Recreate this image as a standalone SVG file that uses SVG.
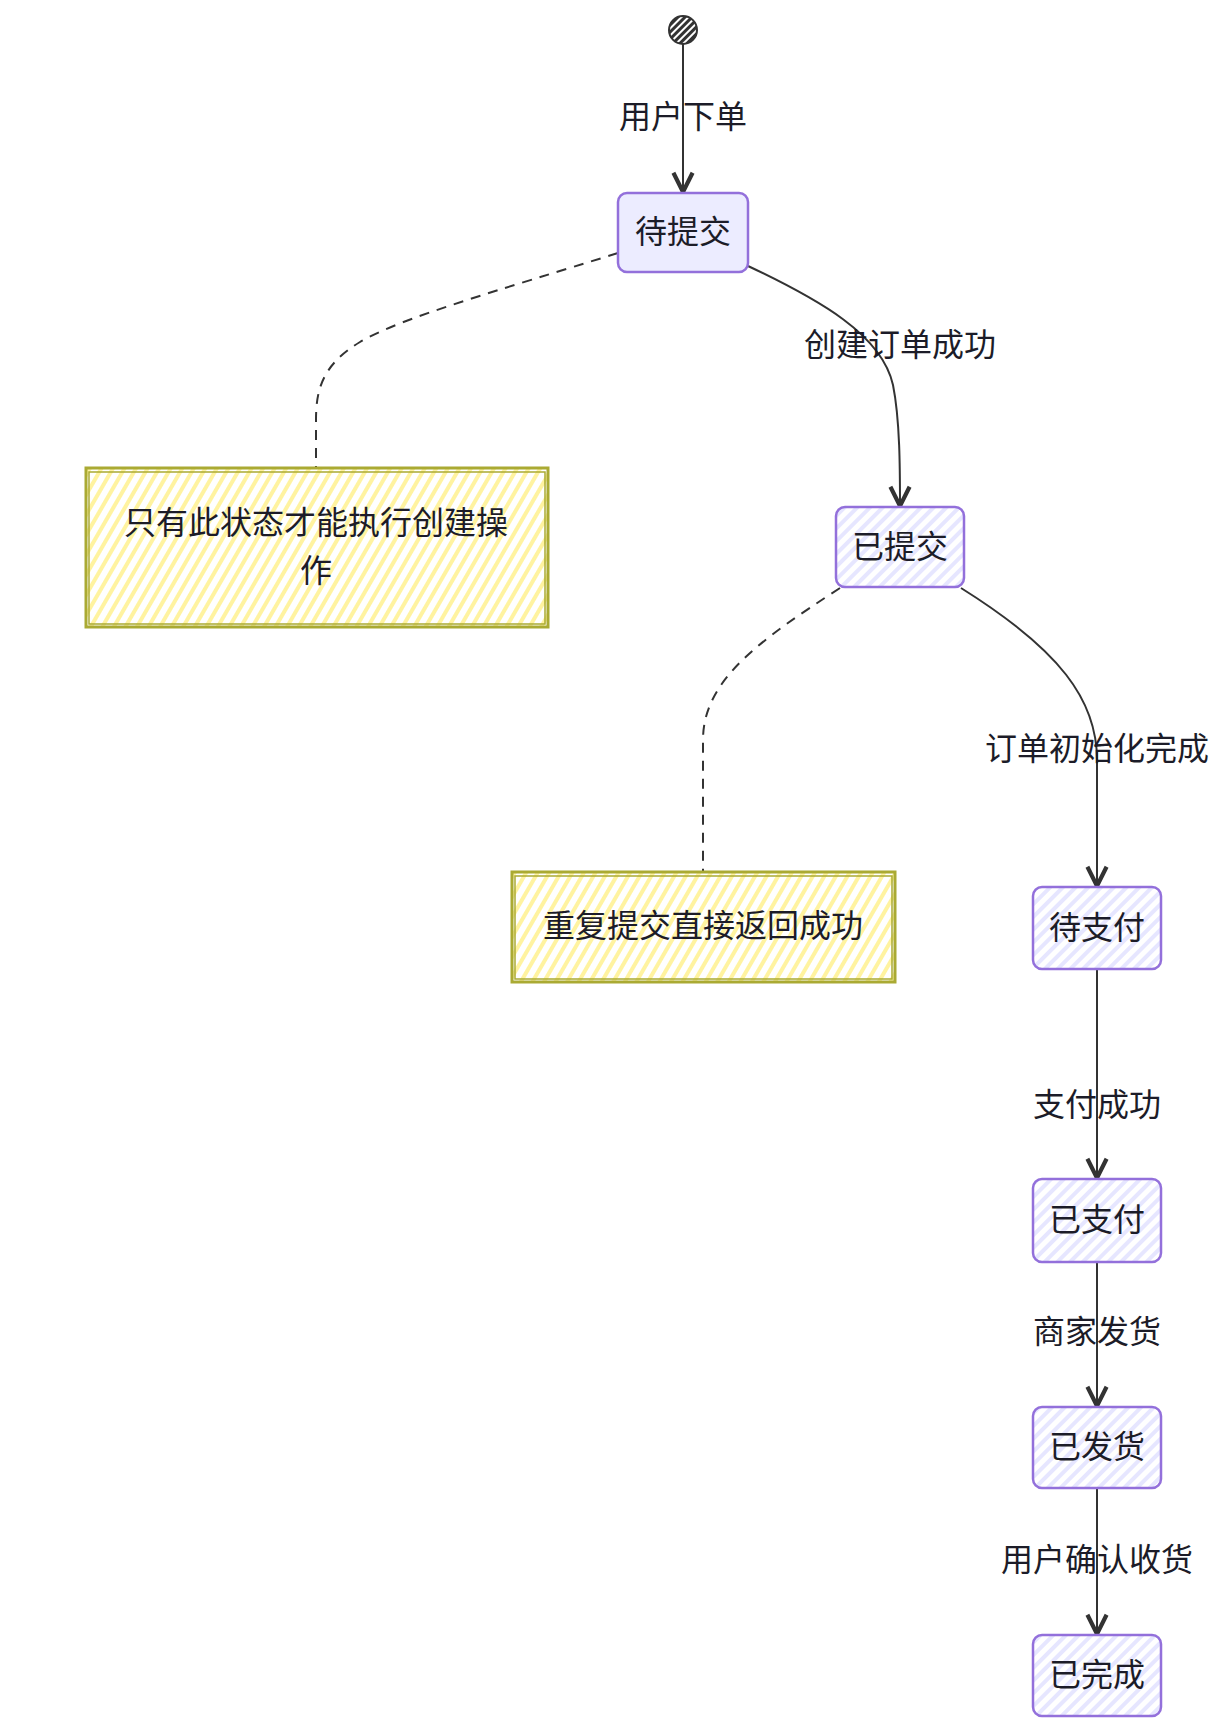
<svg xmlns="http://www.w3.org/2000/svg" width="1225" height="1732" viewBox="0 0 1225 1732">
<style>
.node rect{stroke:#9370DB;stroke-width:2.5}
.note rect{stroke:#aaaa33;stroke-width:3}
.note .b2{fill:none;stroke-width:1.5}
text{font-family:"Noto Sans CJK SC","Noto Sans",sans-serif;font-size:32px;fill:#1c1c28;text-anchor:middle;dominant-baseline:central}
.edge{fill:none;stroke:#333;stroke-width:2}
.dash{fill:none;stroke:#333;stroke-width:2;stroke-dasharray:10 8}
</style>
<defs>
<pattern id="hn" width="9" height="9" patternUnits="userSpaceOnUse" patternTransform="rotate(45)">
<rect width="9" height="9" fill="#ffffff"/><rect width="4" height="9" fill="#E6E6FF"/>
</pattern>
<pattern id="hy" width="10" height="10" patternUnits="userSpaceOnUse" patternTransform="rotate(30)">
<rect width="10" height="10" fill="#ffffff"/><rect width="4" height="10" fill="#FFF3A0"/>
</pattern>
<pattern id="hd" width="5" height="5" patternUnits="userSpaceOnUse" patternTransform="rotate(45)">
<rect width="5" height="5" fill="#ffffff"/><rect width="3" height="5" fill="#333"/>
</pattern>
<marker id="arr" viewBox="0 0 20 20" refX="18" refY="10" markerWidth="24" markerHeight="24" markerUnits="userSpaceOnUse" orient="auto">
<path d="M2,2 L18,10 L2,18" fill="none" stroke="#333" stroke-width="3.5"/>
</marker>
</defs>
<g id="connectors">
<path class="edge" d="M683,44 L683,192" marker-end="url(#arr)"/>
<path class="edge" d="M748,266 C 820,300 882,335 893,385 C 900,420 900,470 900,506" marker-end="url(#arr)"/>
<path class="dash" d="M618,253 C 500,290 400,318 360,342 C 322,365 316,390 316,420 L316,468"/>
<path class="dash" d="M840,588 C 760,640 703,680 703,740 L703,872"/>
<path class="edge" d="M961,588 C 1060,650 1097,700 1097,760 L1097,886" marker-end="url(#arr)"/>
<path class="edge" d="M1097,969 L1097,1178" marker-end="url(#arr)"/>
<path class="edge" d="M1097,1262 L1097,1406" marker-end="url(#arr)"/>
<path class="edge" d="M1097,1488 L1097,1634" marker-end="url(#arr)"/>
</g>
<g id="edge-labels">
<text x="683" y="114">用户下单</text>
<text x="900" y="342">创建订单成功</text>
<text x="1097" y="746">订单初始化完成</text>
<text x="1097" y="1102">支付成功</text>
<text x="1097" y="1329">商家发货</text>
<text x="1097" y="1557">用户确认收货</text>
</g>
<g id="start"><circle cx="683" cy="30" r="14" fill="url(#hd)" stroke="#333" stroke-width="2"/></g>
<g id="n-pending-submit" class="node"><rect x="618" y="193" width="130" height="79" rx="9" fill="#ECECFF"/><text x="683" y="229">待提交</text></g>
<g id="note-1" class="note"><rect x="86" y="468" width="462" height="159" fill="url(#hy)"/><rect class="b2" x="89" y="472" width="456" height="152"/><text x="316" y="520">只有此状态才能执行创建操</text><text x="316" y="568">作</text></g>
<g id="n-submitted" class="node"><rect x="836" y="507" width="128" height="80" rx="9" fill="url(#hn)"/><text x="900" y="544">已提交</text></g>
<g id="note-2" class="note"><rect x="512" y="872" width="383" height="110" fill="url(#hy)"/><rect class="b2" x="515" y="876" width="377" height="103"/><text x="703" y="923">重复提交直接返回成功</text></g>
<g id="n-pending-pay" class="node"><rect x="1033" y="887" width="128" height="82" rx="9" fill="url(#hn)"/><text x="1097" y="925">待支付</text></g>
<g id="n-paid" class="node"><rect x="1033" y="1179" width="128" height="83" rx="9" fill="url(#hn)"/><text x="1097" y="1217">已支付</text></g>
<g id="n-shipped" class="node"><rect x="1033" y="1407" width="128" height="81" rx="9" fill="url(#hn)"/><text x="1097" y="1444">已发货</text></g>
<g id="n-done" class="node"><rect x="1033" y="1635" width="128" height="81" rx="9" fill="url(#hn)"/><text x="1097" y="1672">已完成</text></g>
</svg>
